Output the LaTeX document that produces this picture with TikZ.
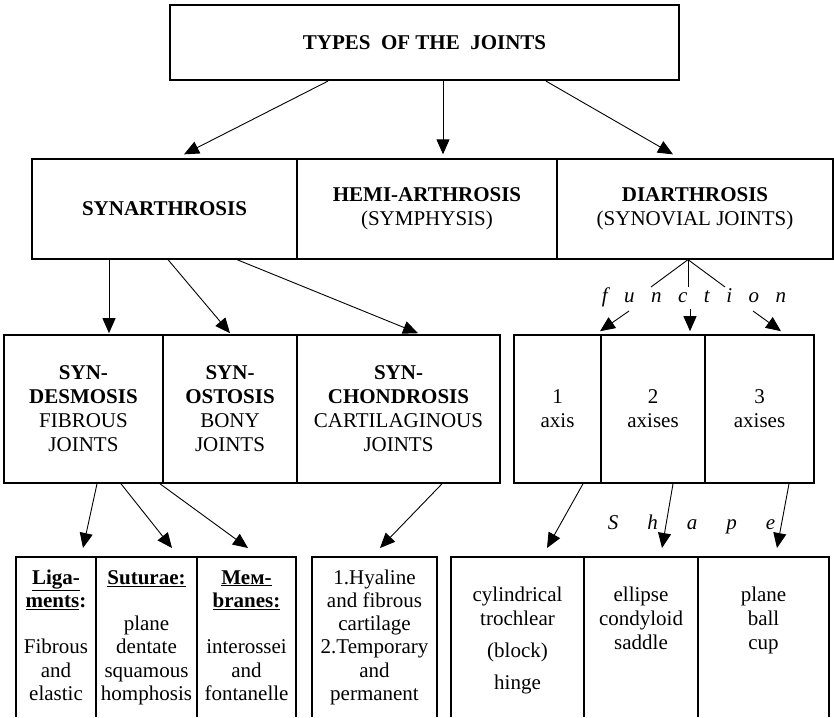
\documentclass[tikz,border=0pt]{standalone}
\usepackage{fontspec}
\setmainfont{Liberation Serif}
\usetikzlibrary{arrows.meta}
\renewcommand\arraystretch{0.97}
\begin{document}
\begin{tikzpicture}[x=1pt,y=-1pt,
  every node/.style={font=\fontsize{21}{24}\selectfont},
  box/.style={draw, line width=1.6pt, inner sep=0pt, align=center},
  cell/.style={inner sep=0pt, outer sep=0pt},
  opencell/.style={line width=1.8pt},
  txt/.style={anchor=base, inner sep=0pt},
  arr/.style={-{Triangle[length=15pt,width=13pt]}, line width=0.9pt},
  plain/.style={line width=0.9pt},
  spaced/.style={font=\fontsize{21}{24}\selectfont\itshape, inner sep=0pt, anchor=base}]
\useasboundingbox (0,0) rectangle (834,717);

% top
\node[box, line width=2.2pt, minimum width=509pt, minimum height=75pt] (top) at (424.5,42.5)
  {\textbf{TYPES~~OF THE~~JOINTS}};

% row 2
\node[box, line width=1.3pt, minimum width=265pt, minimum height=100pt] (synarth) at (164.5,209) {\textbf{SYNARTHROSIS}};
\node[box, line width=1.3pt, minimum width=260pt, minimum height=100pt] (hemi) at (427,209) {\textbf{HEMI-ARTHROSIS}\\(SYMPHYSIS)};
\node[box, line width=1.3pt, minimum width=276pt, minimum height=100pt] (diarth) at (695,209) {\textbf{DIARTHROSIS}\\(SYNOVIAL JOINTS)};

% row 3
\node[box, minimum width=159pt, minimum height=148pt] (syndes) at (83.5,409) {\textbf{SYN-}\\\textbf{DESMOSIS}\\FIBROUS\\JOINTS};
\node[box, minimum width=134pt, minimum height=148pt] (synost) at (230,409) {\textbf{SYN-}\\\textbf{OSTOSIS}\\BONY\\JOINTS};
\node[box, minimum width=203pt, minimum height=148pt] (synchon) at (398.5,409) {\textbf{SYN-}\\\textbf{CHONDROSIS}\\CARTILAGINOUS\\JOINTS};
\node[box, minimum width=87pt, minimum height=148pt] (ax1) at (557.5,409) {1\\axis};
\node[box, minimum width=104pt, minimum height=148pt] (ax2) at (653,409) {2\\axises};
\node[box, minimum width=109pt, minimum height=148pt] (ax3) at (759.5,409) {3\\axises};

% row 4 (open at the bottom)
\node[cell, minimum width=80pt, minimum height=160pt] (lig) at (56,637) {};
\node[cell, minimum width=101pt, minimum height=160pt] (sut) at (146.5,637) {};
\node[cell, minimum width=99pt, minimum height=160pt] (mem) at (246.5,637) {};
\node[cell, minimum width=125pt, minimum height=160pt] (hy) at (374.5,637) {};
\node[cell, minimum width=133pt, minimum height=160pt] (cyl) at (517.5,637) {};
\node[cell, minimum width=114pt, minimum height=160pt] (ell) at (641,637) {};
\node[cell, minimum width=131pt, minimum height=160pt] (pla) at (763.5,637) {};
\foreach \n in {lig,sut,mem,hy,cyl,ell,pla}
  \draw[opencell] (\n.south west) -- (\n.north west) -- (\n.north east) -- (\n.south east);

\node[txt] (ligT) at (56,584) {\begin{tabular}[t]{@{}c@{}}\textbf{\underline{Liga-}}\\\textbf{\underline{ments}:}\\ \\Fibrous\\and\\elastic\end{tabular}};
\node[txt] (sutT) at (146.5,584) {\begin{tabular}[t]{@{}c@{}}\textbf{\underline{Suturae:}}\\ \\plane\\dentate\\squamous\\homphosis\end{tabular}};
\node[txt] (memT) at (246.5,584) {\begin{tabular}[t]{@{}c@{}}\textbf{\underline{Мем-}}\\\textbf{\underline{branes:}}\\ \\interossei\\and\\fontanelle\end{tabular}};
\node[txt] (hyT) at (374.5,584) {\begin{tabular}[t]{@{}c@{}}1.Hyaline\\and fibrous\\cartilage\\2.Temporary\\and\\permanent\end{tabular}};
\node[txt] (cylT) at (517.5,601) {\begin{tabular}[t]{@{}c@{}}cylindrical\\[1.7pt]trochlear\\[8.7pt](block)\\[8.7pt]hinge\end{tabular}};
\node[txt] (ellT) at (641,601) {\begin{tabular}[t]{@{}c@{}}ellipse\\[1.7pt]condyloid\\saddle\end{tabular}};
\node[txt] (plaT) at (763.5,601) {\begin{tabular}[t]{@{}c@{}}plane\\[1.7pt]ball\\cup\end{tabular}};

% labels
\node[spaced] (func) at (694,302) {\spaceskip=16.5pt plus 0pt minus 0pt f u n c t i o n};
\node[spaced] (shape) at (691.5,529) {\spaceskip=29pt plus 0pt minus 0pt S h a p e};

% arrows from top
\draw[arr] ([xshift=-96.5pt]top.south) -- ([xshift=19.5pt,yshift=4pt]synarth.north);
\draw[arr] ([xshift=18.5pt]top.south) -- ([xshift=16pt,yshift=4pt]hemi.north);
\draw[arr] ([xshift=121.5pt]top.south) -- ([xshift=-22pt,yshift=4pt]diarth.north);

% synarthrosis to row 3
\draw[arr] ([xshift=-55.5pt]synarth.south) -- ([xshift=25.5pt,yshift=1pt]syndes.north);
\draw[arr] ([xshift=3.5pt]synarth.south) -- ([xshift=0pt,yshift=1pt]synost.north);
\draw[arr] ([xshift=72.5pt]synarth.south) -- ([xshift=19.5pt,yshift=1pt]synchon.north);

% diarthrosis by function
\coordinate (f1) at (651,287);
\coordinate (f2) at (688,287);
\coordinate (f3) at (725,287);
\draw[plain] ([xshift=-7pt]diarth.south) -- (f1);
\draw[plain] ([xshift=-7pt]diarth.south) -- (f2);
\draw[plain] ([xshift=-7pt]diarth.south) -- (f3);
\coordinate (g1) at (629,311);
\coordinate (g2) at (690,309);
\coordinate (g3) at (753,311);
\draw[arr] (g1) -- ([xshift=42.5pt,yshift=3pt]ax1.north);
\draw[arr] (g2) -- ([xshift=37pt,yshift=3pt]ax2.north);
\draw[arr] (g3) -- ([xshift=21.5pt,yshift=3pt]ax3.north);

% row 3 to row 4
\draw[arr] ([xshift=13.5pt]syndes.south) -- ([xshift=27pt,yshift=9pt]lig.north);
\draw[arr] ([xshift=37.5pt]syndes.south) -- ([xshift=25.5pt,yshift=9pt]sut.north);
\draw[arr] ([xshift=76.5pt]syndes.south) -- ([xshift=1.5pt,yshift=9pt]mem.north);
\draw[arr] ([xshift=43.5pt]synchon.south) -- ([xshift=5.5pt,yshift=9pt]hy.north);
\draw[arr] ([xshift=25.5pt]ax1.south) -- ([xshift=29.5pt,yshift=9pt]cyl.north);
\draw[arr] ([xshift=20pt]ax2.south) -- ([xshift=21pt,yshift=9pt]ell.north);
\draw[arr] ([xshift=29.5pt]ax3.south) -- ([xshift=13.5pt,yshift=9pt]pla.north);
\end{tikzpicture}
\end{document}
